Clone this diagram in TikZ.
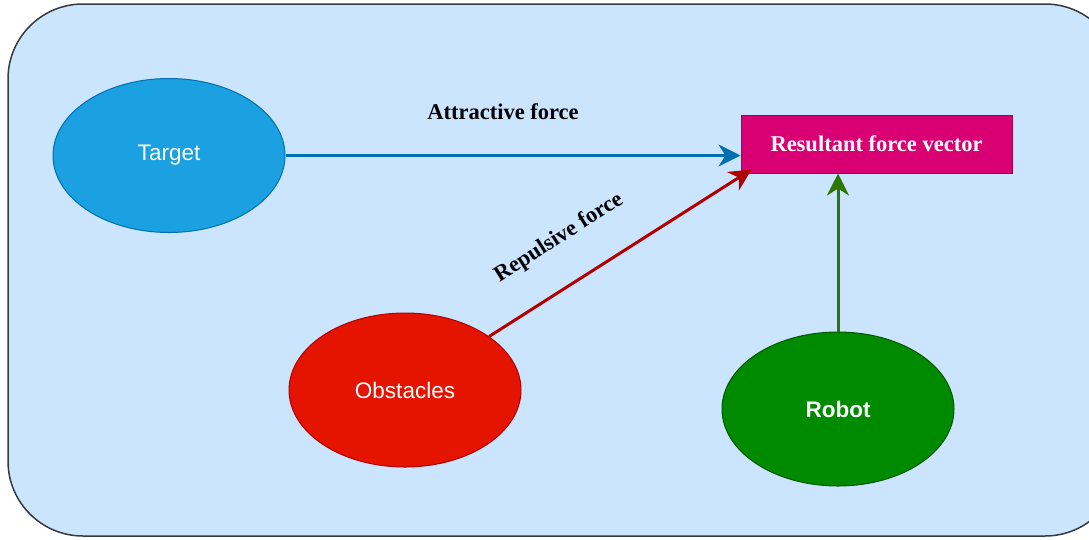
\documentclass[tikz,border=0pt]{standalone}
\usepackage{fontspec}
\setmainfont{Liberation Serif}
\newfontfamily\arialfont{Liberation Sans}
\usetikzlibrary{shapes.geometric,arrows.meta}
\definecolor{panelfill}{HTML}{CCE5FF}
\definecolor{panelline}{HTML}{36393D}
\definecolor{tgtfill}{HTML}{1BA1E2}
\definecolor{tgtline}{HTML}{006EAF}
\definecolor{obsfill}{HTML}{E51400}
\definecolor{obsline}{HTML}{B20000}
\definecolor{robfill}{HTML}{008A00}
\definecolor{robline}{HTML}{005700}
\definecolor{resfill}{HTML}{D80073}
\definecolor{resline}{HTML}{A50040}
\definecolor{greenarrow}{HTML}{2D7600}
\tikzset{
  blob/.style={ellipse, minimum width=232pt, minimum height=154pt, inner sep=0pt,
    line width=1pt, text=white, font=\arialfont\fontsize{22.5}{26}\selectfont},
  force/.style={line width=3pt, -{Stealth[length=22pt,width=22pt,inset=7pt]}},
  forcelabel/.style={font=\bfseries\fontsize{22.5}{26}\selectfont, text=black},
}
\begin{document}
\begin{tikzpicture}[x=1pt,y=-1pt]
  \useasboundingbox (0,0) rectangle (1089,539);
  % panel
  \draw[panelline, fill=panelfill, line width=1.5pt, rounded corners=75pt]
    (8,4) rectangle (1120,536);
  % nodes
  \node[blob, fill=tgtfill, draw=tgtline] (target) at (169,155.5) {Target};
  \node[blob, fill=obsfill, draw=obsline] (obst) at (405,390) {Obstacles};
  \node[blob, fill=robfill, draw=robline, font=\arialfont\bfseries\fontsize{22.5}{26}\selectfont] (robot) at (838,409) {Robot};
  \node[rectangle, fill=resfill, draw=resline, line width=1pt, minimum width=271pt,
    minimum height=58pt, inner sep=0pt, text=white,
    font=\bfseries\fontsize{22.5}{26}\selectfont] (result) at (876.5,144) {Resultant force vector};
  % connectors
  \coordinate (redend) at ([shift={(11,-4)}]result.south west);
  \draw[force, tgtline] (target.east) -- (target.east -| result.west);
  \draw[force, obsline] (obst) -- (redend);
  \draw[force, greenarrow] (robot.north) -- (robot.north |- result.south);
  % labels
  \node[forcelabel] (attr) at (503,112) {Attractive force};
  \node[forcelabel, rotate=32.5] (repl) at (559,238) {Repulsive force};
\end{tikzpicture}
\end{document}
